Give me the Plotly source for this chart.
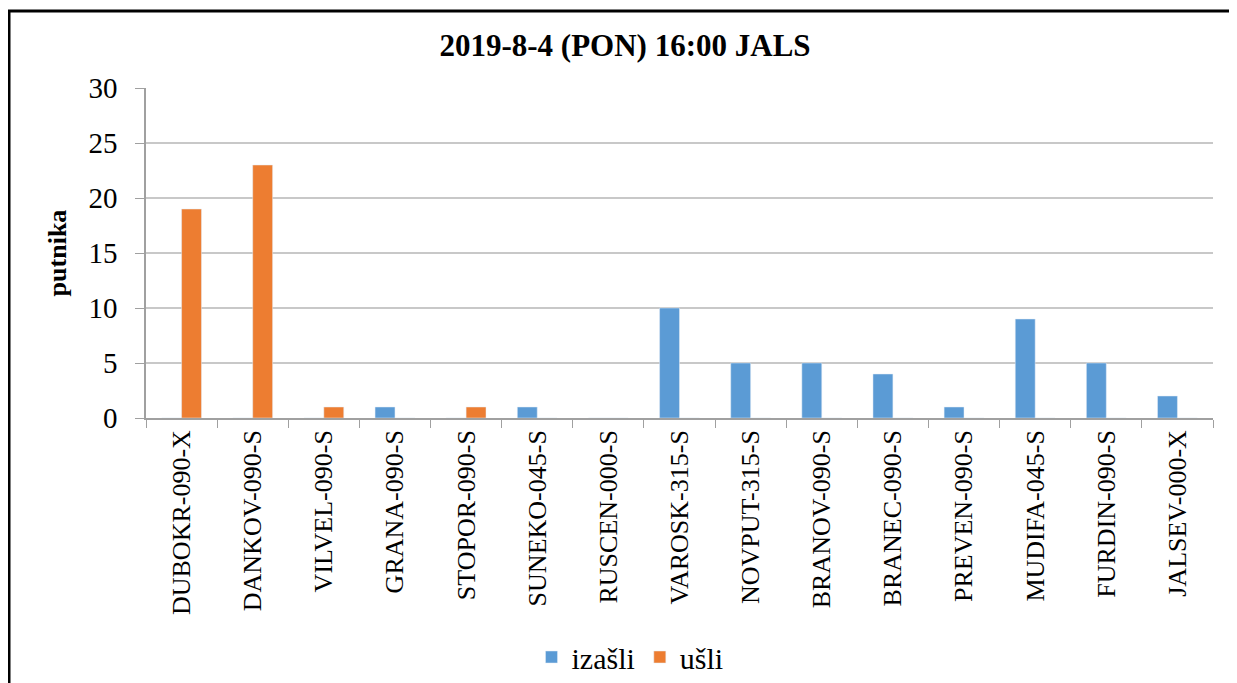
import plotly.graph_objects as go

categories = ["DUBOKR-090-X", "DANKOV-090-S", "VILVEL-090-S", "GRANA-090-S", "STOPOR-090-S",
              "SUNEKO-045-S", "RUSCEN-000-S", "VAROSK-315-S", "NOVPUT-315-S", "BRANOV-090-S",
              "BRANEC-090-S", "PREVEN-090-S", "MUDIFA-045-S", "FURDIN-090-S", "JALSEV-000-X"]
izasli = [0, 0, 0, 1, 0, 1, 0, 10, 5, 5, 4, 1, 9, 5, 2]
usli = [19, 23, 1, 0, 1, 0, 0, 0, 0, 0, 0, 0, 0, 0, 0]
y_ticks = [0, 5, 10, 15, 20, 25, 30]

# page has an 8px body margin; figure is sized to fit the window
OFF = 8
W, H = 1237 - OFF, 683 - OFF
L, T = 146 - OFF, 88 - OFF
R = W - (1213 - OFF)
B = H - (418 - OFF)
pw, ph = W - L - R, H - T - B

def px2x(p):
    return (p - OFF - L) / pw

def px2y(p):
    return (H - B - (p - OFF)) / ph

FONT = "Liberation Serif"

fig = go.Figure()
fig.add_trace(go.Bar(x=categories, y=izasli, name="izašli", marker_color="#5B9BD5"))
fig.add_trace(go.Bar(x=categories, y=usli, name="ušli", marker_color="#ED7D31"))

fig.update_layout(
    width=W, height=H,
    margin=dict(l=L, r=R, t=T, b=B),
    paper_bgcolor="white", plot_bgcolor="white",
    barmode="group", bargap=0.44, bargroupgap=0,
    font=dict(family=FONT, color="black", size=26),
    title=dict(text="<b>2019-8-4 (PON) 16:00 JALS</b>", x=(625 - OFF) / W, xref="container",
               xanchor="center", y=1 - (45 - OFF) / H, yref="container", yanchor="middle",
               font=dict(family=FONT, size=31, color="black")),
    legend=dict(orientation="h", xref="container", yref="container", x=(630 - OFF) / W,
                y=1 - (657 - OFF) / H, xanchor="center", yanchor="middle",
                font=dict(family=FONT, size=30), itemwidth=30, traceorder="normal"),
    showlegend=True,
)
fig.update_xaxes(
    type="category", tickangle=-90, tickson="boundaries", ticks="outside", ticklen=8,
    tickcolor="#A0A0A0", showline=True, linecolor="#A0A0A0", linewidth=1.5,
    showgrid=False, tickfont=dict(family=FONT, size=26), automargin=False,
)
fig.update_yaxes(
    range=[0, 30], tickvals=y_ticks, ticks="outside", ticklen=9, tickcolor="#A0A0A0",
    showline=True, linecolor="#A0A0A0", linewidth=1.5, showgrid=True, gridcolor="#C8C8C8",
    gridwidth=1.5, zeroline=False, tickfont=dict(family=FONT, size=29), ticklabelstandoff=12,
    title=dict(text="<b>putnika</b>", font=dict(family=FONT, size=26), standoff=14),
    automargin=False,
)
fig.add_shape(type="line", xref="paper", yref="paper", x0=px2x(9), x1=px2x(9),
              y0=px2y(11), y1=px2y(700), line=dict(color="black", width=3))
fig.add_shape(type="line", xref="paper", yref="paper", x0=px2x(8), x1=px2x(1240),
              y0=px2y(11), y1=px2y(11), line=dict(color="black", width=3))

fig.write_html("out.html")
